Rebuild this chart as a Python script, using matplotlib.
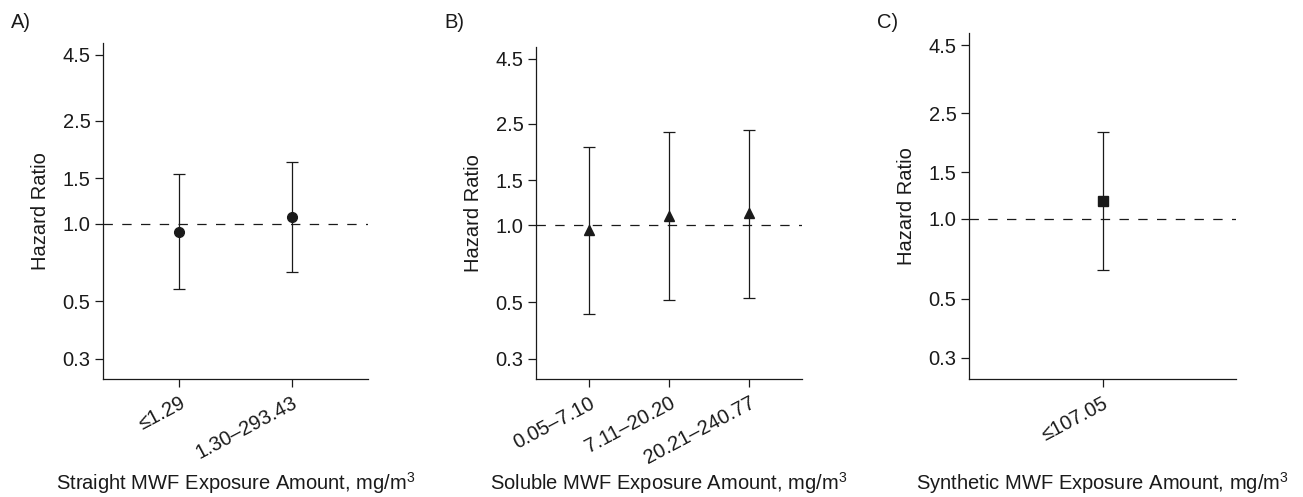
import matplotlib
matplotlib.use("Agg")
import matplotlib.pyplot as plt
import numpy as np

plt.rcParams["font.family"] = ["Liberation Sans", "DejaVu Sans"]
plt.rcParams["mathtext.fontset"] = "custom"
plt.rcParams["mathtext.rm"] = "Liberation Sans"
plt.rcParams["mathtext.it"] = "Liberation Sans"

# Panel A: straight MWF
straight_labels = ["\u22641.29", "1.30\u2013293.43"]
straight_hr = [0.93, 1.06]
straight_lo = [0.56, 0.65]
straight_hi = [1.55, 1.73]

# Panel B: soluble MWF
soluble_labels = ["0.05\u20137.10", "7.11\u201320.20", "20.21\u2013240.77"]
soluble_hr = [0.96, 1.09, 1.12]
soluble_lo = [0.45, 0.51, 0.52]
soluble_hi = [2.02, 2.32, 2.37]

# Panel C: synthetic MWF
synthetic_labels = ["\u2264107.05"]
synthetic_hr = [1.17]
synthetic_lo = [0.64]
synthetic_hi = [2.13]

yticks = [0.3, 0.5, 1.0, 1.5, 2.5, 4.5]
ink = "#1a1a1a"
fs = 14.5

panels = [
    ("A)", straight_labels, straight_hr, straight_lo, straight_hi, "o",
     "Straight MWF Exposure Amount, mg/m$^3$"),
    ("B)", soluble_labels, soluble_hr, soluble_lo, soluble_hi, "^",
     "Soluble MWF Exposure Amount, mg/m$^3$"),
    ("C)", synthetic_labels, synthetic_hr, synthetic_lo, synthetic_hi, "s",
     "Synthetic MWF Exposure Amount, mg/m$^3$"),
]

# axes boxes in pixels: left, right, top (bottom is shared)
boxes = [(103, 368, 43, (0.32, 2.68)),
         (536, 802, 47, (0.34, 3.66)),
         (969, 1236, 33, (0.0, 2.0))]
W, H = 1303, 497
bottom_px = 379
panel_label_pos = [(11, 22), (444, 22), (877, 22)]

fig = plt.figure(figsize=(W / 100, H / 100), dpi=100)

for (tag, labels, hr, lo, hi, marker, xlabel), (l, r, t, xlim), (px, py) in zip(
        panels, boxes, panel_label_pos):
    ax = fig.add_axes([l / W, (H - bottom_px) / H, (r - l) / W, (bottom_px - t) / H])
    x = np.arange(1, len(labels) + 1)
    hr = np.array(hr)
    yerr = [hr - np.array(lo), np.array(hi) - hr]
    ax.axhline(1.0, color=ink, lw=0.9, dashes=(7.5, 7.5), zorder=1)
    ax.errorbar(x, hr, yerr=yerr, fmt=marker, color=ink, ecolor=ink,
                elinewidth=0.9, capsize=4.2, capthick=0.9,
                markersize=7 if marker != "s" else 6.5, zorder=3)
    ax.set_yscale("log")
    ax.set_ylim(0.25, 5.0)
    ax.set_yticks(yticks)
    ax.set_yticklabels([f"{v:.1f}" for v in yticks])
    ax.minorticks_off()
    ax.set_xlim(*xlim)
    ax.set_xticks(x)
    ax.set_xticklabels(labels, rotation=28, ha="right", rotation_mode="anchor")
    ax.tick_params(axis="both", labelsize=fs, colors=ink, length=5.5, width=0.9)
    ax.tick_params(axis="x", pad=5)
    for s in ["top", "right"]:
        ax.spines[s].set_visible(False)
    for s in ["left", "bottom"]:
        ax.spines[s].set_color(ink)
        ax.spines[s].set_linewidth(0.9)
    ax.set_ylabel("Hazard Ratio", fontsize=fs, color=ink, labelpad=9)
    fig.text((l + r) / 2 / W, (H - 490) / H, xlabel, ha="center", va="baseline",
             fontsize=fs, color=ink)
    fig.text(px / W, (H - py) / H, tag, ha="left", va="center",
             fontsize=fs, color=ink)

fig.savefig("out.png", dpi=100)
